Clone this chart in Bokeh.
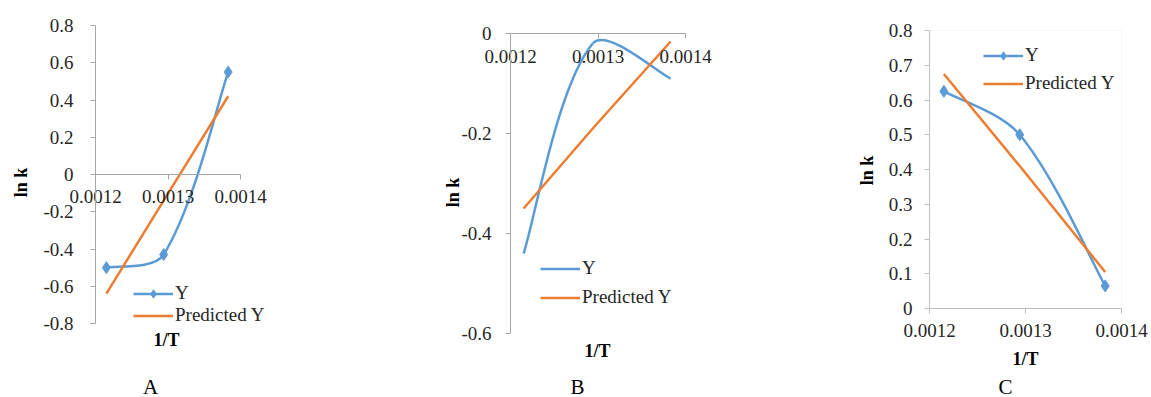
import math
from bokeh.plotting import figure
from bokeh.models import (Range1d, FixedTicker, Legend, LegendItem, Label,
                          LinearAxis, BoxAnnotation)
from bokeh.embed import file_html
from bokeh.resources import INLINE

# ---- data ----
inv_T = [0.001215, 0.001294, 0.001383]
x_ticks = [0.0012, 0.0013, 0.0014]
x_tick_labels = ["0.0012", "0.0013", "0.0014"]

a_y = [-0.50, -0.43, 0.55]
a_pred = [-0.64, -0.14, 0.42]
a_yticks = [-0.8, -0.6, -0.4, -0.2, 0.0, 0.2, 0.4, 0.6, 0.8]
a_ylabels = ["-0.8", "-0.6", "-0.4", "-0.2", "0", "0.2", "0.4", "0.6", "0.8"]

b_y = [-0.44, -0.02, -0.09]
b_pred = [-0.35, -0.19, -0.016]
b_yticks = [-0.6, -0.4, -0.2, 0.0]
b_ylabels = ["-0.6", "-0.4", "-0.2", "0"]

c_y = [0.625, 0.50, 0.065]
c_pred = [0.675, 0.41, 0.105]
c_yticks = [0.0, 0.1, 0.2, 0.3, 0.4, 0.5, 0.6, 0.7, 0.8]
c_ylabels = ["0", "0.1", "0.2", "0.3", "0.4", "0.5", "0.6", "0.7", "0.8"]

BLUE = "#5B9BD5"
ORANGE = "#ED7D31"
FONT = "Liberation Serif"
TXT = "#262626"

FIG_W, FIG_H = 1151, 397
OX, OY = 0, 0          # page position of the canvas

p = figure(width=FIG_W, height=FIG_H, x_range=Range1d(0, 1), y_range=Range1d(0, 1),
           x_axis_location=None, y_axis_location=None, output_backend="svg",
           toolbar_location=None, min_border=0)
p.outline_line_color = None
p.xgrid.visible = False
p.ygrid.visible = False
p.background_fill_color = "white"
p.border_fill_color = "white"


def lin(v0, p0, v1, p1):
    k = (p1 - p0) / (v1 - v0)
    return (lambda page: v0 + (page - p0) / k), k


def smooth(xs, ys, kx, ky, t=1.0 / 6):
    """Excel-like smoothed line as cubic Bezier segments (handles scaled by segment length)."""
    n = len(xs)
    L = [math.hypot((xs[i + 1] - xs[i]) * kx, (ys[i + 1] - ys[i]) * ky) for i in range(n - 1)]
    tx, ty, fin, fout = [], [], [], []
    for i in range(n):
        im, ip = max(i - 1, 0), min(i + 1, n - 1)
        tx.append(xs[ip] - xs[im]); ty.append(ys[ip] - ys[im])
        if 0 < i < n - 1:
            s = L[i - 1] + L[i]
            fin.append(2 * L[i - 1] / s); fout.append(2 * L[i] / s)
        else:
            fin.append(1.0); fout.append(1.0)
    d = dict(x0=[], y0=[], x1=[], y1=[], cx0=[], cy0=[], cx1=[], cy1=[])
    for i in range(n - 1):
        d["x0"].append(xs[i]); d["y0"].append(ys[i])
        d["x1"].append(xs[i + 1]); d["y1"].append(ys[i + 1])
        d["cx0"].append(xs[i] + tx[i] * t * fout[i])
        d["cy0"].append(ys[i] + ty[i] * t * fout[i])
        d["cx1"].append(xs[i + 1] - tx[i + 1] * t * fin[i + 1])
        d["cy1"].append(ys[i + 1] - ty[i + 1] * t * fin[i + 1])
    return d


def add_panel(name, ys, preds, yticks, ylabels, xpix, ypix, markers, x_axis_at,
              leg_box, leg_spacing, ylab_standoff, xlab_standoff, axis_color,
              outline, lnk_pos, t_pos, letter, letter_pos):
    fx, kx = lin(x_ticks[0], xpix[0], x_ticks[-1], xpix[1])
    fy, ky = lin(yticks[-1], ypix[0], yticks[0], ypix[1])
    xr, yr = name + "_x", name + "_y"
    p.extra_x_ranges[xr] = Range1d(fx(OX), fx(OX + FIG_W))
    p.extra_y_ranges[yr] = Range1d(fy(OY + FIG_H), fy(OY))
    rn = dict(x_range_name=xr, y_range_name=yr)

    if outline:
        p.add_layout(BoxAnnotation(left=x_ticks[0], right=x_ticks[-1],
                                   bottom=yticks[0], top=yticks[-1],
                                   fill_alpha=0, line_color="#E4E4E4",
                                   line_width=1, level="underlay", **rn))

    seg = smooth(inv_T, ys, kx, ky)
    bz = p.bezier(x0="x0", y0="y0", x1="x1", y1="y1", cx0="cx0", cy0="cy0",
                  cx1="cx1", cy1="cy1", source=seg, line_color=BLUE,
                  line_width=2.5, **rn)
    y_rend = [bz]
    if markers:
        sc = p.scatter(inv_T, ys, marker="diamond", size=12, fill_color=BLUE,
                       line_color=BLUE, **rn)
        y_rend.append(sc)
    pl = p.line(inv_T, preds, line_color=ORANGE, line_width=2.5, **rn)

    xa = LinearAxis(fixed_location=x_axis_at, bounds=(x_ticks[0], x_ticks[-1]),
                    ticker=FixedTicker(ticks=x_ticks),
                    major_label_overrides=dict(zip(x_ticks, x_tick_labels)), **rn)
    ya = LinearAxis(fixed_location=x_ticks[0], bounds=(yticks[0], yticks[-1]),
                    ticker=FixedTicker(ticks=yticks),
                    major_label_overrides=dict(zip(yticks, ylabels)), **rn)
    for ax in (xa, ya):
        ax.minor_tick_line_color = None
        ax.major_tick_in = 0
        ax.major_tick_out = 5
        ax.axis_line_color = axis_color
        ax.axis_line_width = 1
        ax.major_tick_line_color = axis_color
        ax.major_label_text_font = FONT
        ax.major_label_text_font_size = "19px"
        ax.major_label_text_color = TXT
    xa.major_label_standoff = xlab_standoff
    ya.major_label_standoff = ylab_standoff
    p.add_layout(xa, "below")
    p.add_layout(ya, "left")

    p.add_layout(Label(x=fx(lnk_pos[0]), y=fy(lnk_pos[1]), text="ln k",
                       angle=math.pi / 2, text_align="center", text_baseline="middle",
                       text_font=FONT, text_font_size="18px", text_font_style="bold",
                       text_color="#000000", **rn))
    p.add_layout(Label(x=fx(t_pos[0]), y=fy(t_pos[1]), text="1/T",
                       text_align="center", text_baseline="middle",
                       text_font=FONT, text_font_size="18px", text_font_style="bold",
                       text_color="#000000", **rn))
    p.add_layout(Label(x=fx(letter_pos[0]), y=fy(letter_pos[1]), text=letter,
                       text_align="center", text_baseline="middle",
                       text_font=FONT, text_font_size="21px",
                       text_color="#000000", **rn))

    left, bottom = leg_box
    legend = Legend(items=[LegendItem(label="Y", renderers=y_rend),
                           LegendItem(label="Predicted Y", renderers=[pl])],
                    location=(left - OX, OY + FIG_H - bottom),
                    orientation="vertical",
                    background_fill_alpha=0, border_line_alpha=0,
                    padding=0, margin=0, spacing=leg_spacing,
                    glyph_width=40, glyph_height=21, label_height=21,
                    label_standoff=2, label_text_font=FONT,
                    label_text_font_size="19px", label_text_color=TXT)
    p.add_layout(legend)


# positions below are page pixels of the layout
add_panel("a", a_y, a_pred, a_yticks, a_ylabels, (95, 240), (25, 323), True, 0,
          (133, 326), 0, 17, 10, "#A6A6A6", False,
          (20, 182), (166, 339), "A", (150, 386))
add_panel("b", b_y, b_pred, b_yticks, b_ylabels, (510, 685), (33, 333), False, 0,
          (540, 308), 7, 14, 11, "#A6A6A6", False,
          (452, 192), (597, 350), "B", (577, 386))
add_panel("c", c_y, c_pred, c_yticks, c_ylabels, (929, 1121), (30, 308), True, 0,
          (983, 94), 6, 12, 10, "#BFBFBF", True,
          (866, 170), (1025, 358), "C", (1005, 386))

open("out.html", "w").write(file_html(p, INLINE))
